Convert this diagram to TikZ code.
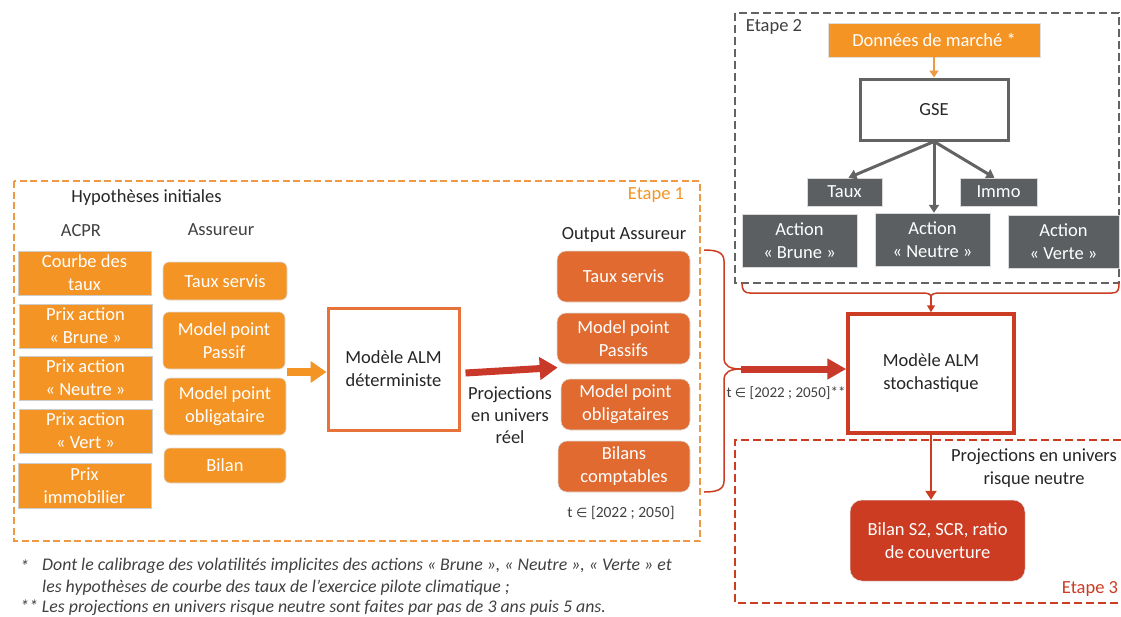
\documentclass[tikz,border=0pt]{standalone}
\usepackage{fontspec}
\setmainfont{Carlito}
\newfontfamily\dejavu{DejaVu Sans}
\usetikzlibrary{arrows.meta,calc}
\definecolor{orA}{HTML}{F39425}
\definecolor{orB}{HTML}{E06A2F}
\definecolor{orLine}{HTML}{EE9A45}
\definecolor{orDet}{HTML}{E8733A}
\definecolor{redA}{HTML}{C8392A}
\definecolor{redB}{HTML}{CB3C22}
\definecolor{grayD}{HTML}{5B5F62}
\definecolor{grayL}{HTML}{636363}
\definecolor{txt}{HTML}{262626}
\definecolor{txtG}{HTML}{404040}
\newcommand{\elt}{{\dejavu\fontsize{13}{15}\selectfont ∈}}
\begin{document}
\begin{tikzpicture}[x=1pt,y=-1pt,
  every node/.style={inner sep=0pt, align=center, font=\fontsize{18.5}{23}\selectfont, text=txt},
  acpr/.style={fill=orA, draw=gray!40, line width=0.6, text=white},
  assur/.style={fill=orA, draw=gray!25, line width=0.6, rounded corners=6, text=white},
  outb/.style={fill=orB, draw=gray!25, line width=0.6, rounded corners=9, text=white},
  dark/.style={fill=grayD, draw=gray!30, line width=0.5, text=white},
  note/.style={anchor=west, font=\fontsize{17.8}{20}\selectfont\itshape, text=txtG},
]
\useasboundingbox (0,0) rectangle (1121,616);

% stage frames
\draw[orLine, line width=2, dash pattern=on 7 off 3.5] (14,181) rectangle (700,541);
\draw[grayL, line width=2.5, dash pattern=on 8 off 4] (735,13) rectangle (1119,283);
\draw[redB, line width=2.5, dash pattern=on 8 off 4] (1121,440) -- (735,440) -- (735,603) -- (1121,603);

% labels
\node (hyp) at (146.5,198) {Hypothèses initiales};
\node[text=txtG] (acprl) at (81,231) {ACPR};
\node[text=txtG] (assl) at (221,230) {Assureur};
\node[text=orA] (et1) at (656,195) {Etape 1};
\node (outl) at (624,235) {Output Assureur};
\node[font=\fontsize{18.5}{22}\selectfont] (proj) at (510,415) {Projections\\en univers\\réel};
\node[text=txtG, font=\fontsize{15.5}{18}\selectfont] (t1) at (621,513) {t \elt{} [2022 ; 2050]};
\node[text=txtG, font=\fontsize{15}{18}\selectfont] (t2) at (786,393) {t \elt{} [2022 ; 2050]**};
\node[text=txtG] (et2) at (774,27) {Etape 2};
\node (pr) at (1034,468) {Projections en univers\\risque neutre};
\node[text=redB] (et3) at (1090,589) {Etape 3};

% ACPR boxes
\node[acpr, minimum width=133, minimum height=44] (c1) at (84.5,273) {Courbe des\\taux};
\node[acpr, minimum width=133, minimum height=44] (c2) at (85.5,326) {Prix action\\« Brune »};
\node[acpr, minimum width=133, minimum height=44] (c3) at (85.5,378) {Prix action\\« Neutre »};
\node[acpr, minimum width=133, minimum height=44] (c4) at (85.5,431) {Prix action\\« Vert »};
\node[acpr, minimum width=133, minimum height=45] (c5) at (84.5,485.5) {Prix\\immobilier};

% Assureur boxes
\node[assur, minimum width=124, minimum height=38] (a1) at (225,281) {Taux servis};
\node[assur, minimum width=122, minimum height=57] (a2) at (224,340.5) {Model point\\Passif};
\node[assur, minimum width=122, minimum height=57] (a3) at (225,406.5) {Model point\\obligataire};
\node[assur, minimum width=122, minimum height=35] (a4) at (225,465.5) {Bilan};

% deterministic model
\node[draw=orDet, line width=3, fill=white, minimum width=131, minimum height=122] (det) at (393.5,369) {Modèle ALM\\déterministe};

% outputs
\node[outb, minimum width=133, minimum height=51] (o1) at (623.5,276.5) {Taux servis};
\node[outb, minimum width=133, minimum height=51] (o2) at (623.5,338.5) {Model point\\Passifs};
\node[outb, minimum width=129, minimum height=51] (o3) at (625.5,404.5) {Model point\\obligataires};
\node[outb, minimum width=132, minimum height=51] (o4) at (624,466.5) {Bilans\\comptables};

% Etape 2
\node[fill=orA, draw=gray!25, line width=0.5, text=white, minimum width=212, minimum height=34] (don) at (934,40) {Données de marché *};
\node[draw=grayL, line width=3, fill=white, minimum width=148, minimum height=61] (gse) at (934,109.5) {GSE};
\node[dark, minimum width=75, minimum height=28] (taux) at (844.5,192) {Taux};
\node[dark, minimum width=77, minimum height=28] (immo) at (998.5,192) {Immo};
\node[dark, minimum width=115, minimum height=53] (br) at (799.5,240.5) {Action\\« Brune »};
\node[dark, minimum width=115, minimum height=53] (ne) at (932.5,239.5) {Action\\« Neutre »};
\node[dark, minimum width=111, minimum height=53] (ve) at (1063.5,241.5) {Action\\« Verte »};

% stochastic model and results
\node[draw=redB, line width=3.5, fill=white, minimum width=166, minimum height=119] (sto) at (931,373.5) {Modèle ALM\\stochastique};
\node[fill=redB, draw=gray!25, line width=0.5, rounded corners=12, text=white, minimum width=175, minimum height=81] (bil) at (937.5,540.5) {Bilan S2, SCR, ratio\\de couverture};

% arrows
\draw[orA, line width=8, -{Triangle[length=16,width=21]}] ([shift={(2,3)}]a2.east |- det.west) -- ([shift={(0,3)}]det.west);
\draw[redA, line width=7, -{Triangle[length=18,width=22]}] ($(det.east)+(5,4)$) -- ($(o2.south west)!0.5!(o3.north west)+(-1,-4)$);

\coordinate (btip) at (741,369);
\draw[redB, line width=1.5] (704,250) .. controls (716,250) and (724,252) .. (724,261) -- (724,358)
  .. controls (724,366) and (730,369) .. (btip)
  .. controls (730,369) and (724,372) .. (724,380) -- (724,481)
  .. controls (724,490) and (716,492) .. (704,492);
\draw[redA, line width=7, -{Triangle[length=19,width=20]}] (btip) -- (sto.west |- btip);

\coordinate (btip2) at (931,297);
\draw[redB, line width=1.5] (742,283) .. controls (742,290) and (744,293) .. (750,293) -- (922,293)
  .. controls (928,293) and (931,294) .. (btip2)
  .. controls (931,294) and (934,293) .. (940,293) -- (1112,293)
  .. controls (1118,293) and (1119,290) .. (1119,283);
\draw[redB, line width=1.5, -{Triangle[length=7,width=8]}] (btip2) -- (sto.north);

\draw[orLine, line width=2.5, -{Triangle[length=7,width=9]}] (don.south) -- (gse.north);
\draw[grayL, line width=3, -{Triangle[length=8,width=10]}] (gse.south) -- ([xshift=4]taux.north);
\draw[grayL, line width=3, -{Triangle[length=8,width=10]}] (gse.south) -- (gse.south |- ne.north);
\draw[grayL, line width=3, -{Triangle[length=8,width=10]}] (gse.south) -- ([xshift=-4]immo.north);

\draw[redB, line width=2.5, -{Triangle[length=9,width=11]}] (sto.south) -- (sto.south |- bil.north);

% footnotes
\node[note] (f1s) at (20,566) {*};
\node[note] (f1) at (42,566) {Dont le calibrage des volatilités implicites des actions « Brune », « Neutre », « Verte » et};
\node[note] (f2) at (42,588) {les hypothèses de courbe des taux de l’exercice pilote climatique ;};
\node[note] (f3) at (20,608) {** Les projections en univers risque neutre sont faites par pas de 3 ans puis 5 ans.};
\end{tikzpicture}
\end{document}
